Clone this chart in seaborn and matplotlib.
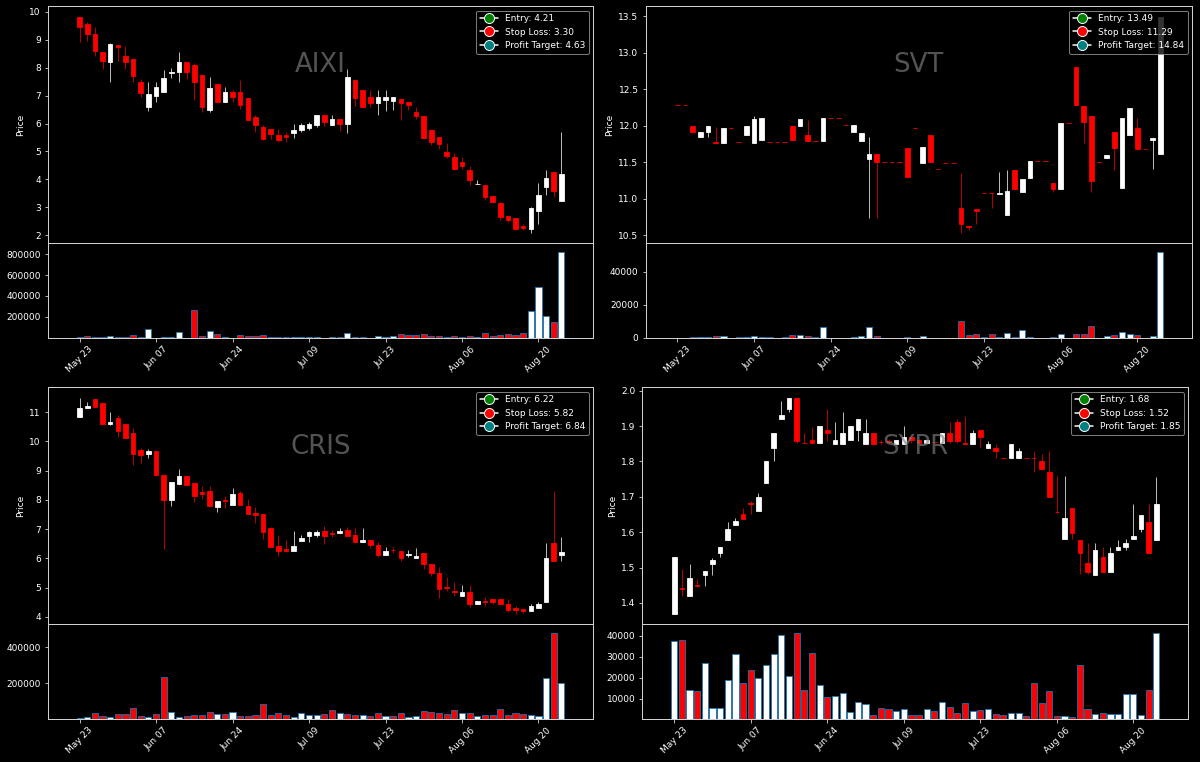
import numpy as np
import pandas as pd
import matplotlib
matplotlib.use("Agg")
import matplotlib.pyplot as plt
import seaborn as sns
from matplotlib.lines import Line2D
from matplotlib.ticker import MaxNLocator

# ---------------- data ----------------
tick_labels = ["May 23", "Jun 07", "Jun 24", "Jul 09", "Jul 23", "Aug 06", "Aug 20"]
dates = pd.bdate_range("2024-05-23", "2024-08-23", freq="C",
                       holidays=["2024-05-27", "2024-06-19", "2024-07-04"])

tickers = ["AIXI", "SVT", "CRIS", "SYPR"]
entry = [4.21, 13.49, 6.22, 1.68]
stop_loss = [3.30, 11.29, 5.82, 1.52]
profit_target = [4.63, 14.84, 6.84, 1.85]

aixi_open = [9.82, 9.57, 9.22, 8.57, 8.19, 8.82, 8.40, 8.31, 7.49, 6.60,
             7.00, 7.13, 7.80, 7.85, 8.21, 8.11, 7.75, 6.49, 7.41, 6.76,
             7.14, 7.13, 6.92, 6.24, 5.88, 5.82, 5.60, 5.58, 5.66, 5.76,
             5.84, 5.94, 6.29, 5.96, 6.16, 5.98, 7.57, 7.20, 6.95, 6.74,
             6.84, 6.82, 6.88, 6.76, 6.42, 6.26, 5.78, 5.51, 4.97, 4.79,
             4.61, 4.34, 3.83, 3.80, 3.42, 3.17, 2.68, 2.62, 2.32, 2.24,
             2.88, 3.72, 4.25, 3.24]
aixi_high = [9.82, 9.65, 9.45, 8.57, 8.87, 8.82, 8.79, 8.31, 7.60, 7.49,
             7.47, 7.92, 7.99, 8.56, 8.21, 8.16, 7.75, 7.66, 7.41, 7.30,
             7.20, 7.56, 6.92, 6.29, 5.96, 5.82, 5.81, 5.68, 6.00, 6.02,
             6.04, 6.30, 6.29, 6.30, 6.16, 7.95, 7.57, 7.20, 7.20, 7.20,
             7.20, 6.96, 6.88, 6.76, 6.58, 6.26, 5.78, 5.51, 5.29, 4.94,
             4.79, 4.49, 3.98, 3.80, 3.42, 3.19, 2.68, 2.62, 2.42, 3.02,
             3.86, 4.34, 4.25, 5.71]
aixi_low = [8.92, 8.95, 8.40, 7.95, 7.50, 8.25, 7.95, 7.50, 6.94, 6.46,
            6.76, 7.13, 7.63, 7.49, 7.59, 6.86, 6.41, 6.40, 6.78, 6.76,
            6.78, 6.52, 6.13, 5.70, 5.41, 5.46, 5.34, 5.34, 5.50, 5.71,
            5.78, 5.88, 5.90, 5.93, 5.74, 5.66, 6.62, 6.58, 6.60, 6.30,
            6.46, 6.50, 6.14, 6.48, 6.18, 5.50, 5.24, 5.09, 4.75, 4.35,
            4.38, 3.80, 3.82, 3.27, 3.19, 2.54, 2.49, 2.18, 2.18, 2.10,
            2.42, 3.43, 3.36, 3.24]
aixi_close = [9.46, 9.20, 8.59, 8.25, 8.85, 8.73, 8.20, 7.71, 7.11, 7.04,
              7.30, 7.63, 7.86, 8.21, 7.85, 7.49, 6.59, 7.26, 6.78, 7.12,
              6.94, 6.65, 6.13, 5.94, 5.45, 5.64, 5.40, 5.53, 5.76, 5.95,
              5.98, 6.30, 6.04, 6.16, 5.99, 7.66, 6.92, 6.58, 6.73, 6.95,
              6.95, 6.96, 6.74, 6.65, 6.28, 5.50, 5.34, 5.28, 4.85, 4.38,
              4.49, 3.97, 3.84, 3.37, 3.19, 2.66, 2.54, 2.24, 2.26, 2.97,
              3.45, 4.04, 3.60, 4.21]
aixi_volume = [10000, 15000, 8000, 4000, 15000, 8000, 3000, 30000, 8000, 88000,
               2000, 3000, 3000, 55000, 2000, 270000, 20000, 68000, 36000, 3000,
               2000, 24000, 14000, 18000, 28000, 4000, 8000, 8000, 9000, 10000,
               10000, 4000, 2000, 3000, 3000, 43000, 4000, 3000, 2000, 14000,
               3000, 15000, 36000, 30000, 24000, 36000, 20000, 20000, 5000, 20000,
               4000, 20000, 12000, 50000, 15000, 30000, 36000, 28000, 50000, 254000,
               486000, 213000, 152000, 822000]

svt_open = [12.29, 12.29, 12.00, 11.85, 11.91, 11.78, 11.77, 11.965, 11.78, 11.87,
            11.77, 11.81, 11.78, 11.78, 11.78, 12.00, 12.00, 11.87, 11.79, 11.79,
            12.10, 12.10, 12.01, 11.91, 11.79, 11.55, 11.62, 11.50, 11.50, 11.50,
            11.70, 11.97, 11.49, 11.88, 11.41, 11.49, 11.49, 10.87, 10.63, 10.86,
            11.08, 11.085, 11.07, 10.78, 11.40, 11.09, 11.29, 11.52, 11.52, 11.22,
            11.14, 12.04, 12.81, 12.27, 12.13, 11.51, 11.56, 11.91, 11.15, 11.88,
            11.97, 11.68, 11.80, 11.61]
svt_high = [12.29, 12.29, 12.00, 11.91, 11.99, 11.98, 11.97, 11.965, 11.78, 11.99,
            12.13, 12.10, 11.78, 11.78, 11.78, 12.00, 12.09, 12.08, 11.79, 12.10,
            12.10, 12.10, 12.01, 12.01, 11.90, 11.85, 11.62, 11.50, 11.50, 11.50,
            11.70, 11.97, 11.71, 11.88, 11.41, 11.49, 11.49, 11.36, 10.63, 10.86,
            11.08, 11.085, 11.37, 11.39, 11.40, 11.27, 11.52, 11.52, 11.52, 11.22,
            12.04, 12.04, 12.81, 12.27, 12.13, 11.51, 11.60, 11.91, 12.10, 12.24,
            12.10, 11.68, 11.83, 13.49]
svt_low = [12.29, 12.29, 11.91, 11.85, 11.85, 11.77, 11.77, 11.965, 11.78, 11.87,
           11.77, 11.81, 11.78, 11.78, 11.78, 11.80, 12.00, 11.79, 11.79, 11.79,
           12.10, 12.10, 12.01, 11.91, 11.79, 10.74, 10.74, 11.50, 11.50, 11.50,
           11.30, 11.97, 11.49, 11.51, 11.41, 11.49, 11.49, 10.54, 10.58, 10.66,
           11.08, 10.87, 11.07, 10.78, 11.14, 11.09, 11.29, 11.52, 11.52, 11.09,
           11.14, 12.04, 12.28, 11.77, 11.09, 11.51, 11.56, 11.39, 11.15, 11.88,
           11.68, 11.68, 11.41, 11.61]
svt_close = [12.29, 12.29, 11.91, 11.91, 11.99, 11.77, 11.97, 11.965, 11.78, 11.99,
             12.09, 12.10, 11.78, 11.78, 11.78, 11.80, 12.09, 11.79, 11.79, 12.10,
             12.10, 12.10, 12.01, 12.01, 11.90, 11.61, 11.50, 11.50, 11.50, 11.50,
             11.30, 11.97, 11.71, 11.51, 11.41, 11.49, 11.49, 10.65, 10.62, 10.83,
             11.08, 11.08, 11.08, 11.11, 11.14, 11.27, 11.52, 11.52, 11.52, 11.14,
             12.04, 12.04, 12.28, 12.05, 11.25, 11.51, 11.60, 11.70, 12.10, 12.24,
             11.68, 11.68, 11.83, 13.49]
svt_volume = [0, 0, 400, 700, 700, 1300, 1200, 0, 200, 300,
              1100, 300, 200, 0, 500, 1800, 1800, 1300, 300, 6300,
              0, 0, 0, 200, 1000, 6300, 1300, 0, 0, 0,
              200, 0, 800, 100, 0, 0, 0, 10200, 1500, 2500,
              300, 2500, 300, 2800, 400, 4800, 300, 0, 0, 400,
              2000, 0, 2000, 2000, 7300, 0, 800, 1500, 3600, 2500,
              1500, 0, 800, 52000]

cris_open = [10.82, 11.14, 11.46, 11.31, 10.59, 10.80, 10.60, 10.29, 9.70, 9.55,
             9.67, 8.85, 8.00, 8.53, 8.81, 8.56, 8.27, 8.29, 7.75, 7.99,
             7.81, 8.23, 7.79, 7.55, 7.51, 7.02, 6.41, 6.32, 6.26, 6.58,
             6.75, 6.81, 6.93, 6.87, 6.85, 6.96, 6.80, 6.57, 6.63, 6.45,
             6.10, 6.30, 6.25, 6.12, 6.01, 6.19, 5.79, 5.51, 5.02, 4.89,
             4.71, 4.85, 4.45, 4.54, 4.59, 4.61, 4.42, 4.29, 4.27, 4.19,
             4.31, 4.50, 6.52, 6.12]
cris_high = [11.48, 11.36, 11.46, 11.31, 10.99, 10.90, 10.60, 10.47, 9.78, 9.73,
             9.67, 8.85, 8.61, 9.04, 8.81, 8.56, 8.46, 8.46, 7.96, 8.12,
             8.42, 8.29, 8.02, 7.75, 7.51, 7.08, 6.78, 6.63, 6.95, 6.78,
             6.95, 6.97, 7.11, 6.98, 7.03, 7.07, 7.03, 7.05, 6.63, 6.56,
             6.37, 6.37, 6.25, 6.29, 6.35, 6.19, 5.79, 5.69, 5.37, 5.18,
             5.07, 5.07, 4.53, 4.68, 4.59, 4.61, 4.60, 4.37, 4.27, 4.42,
             4.50, 6.51, 8.30, 6.74]
cris_low = [10.82, 11.14, 11.16, 10.59, 10.56, 10.15, 10.13, 9.19, 9.27, 9.42,
            8.84, 6.32, 7.79, 8.53, 8.51, 7.92, 8.04, 7.80, 7.59, 7.73,
            7.81, 7.83, 7.52, 7.20, 6.66, 6.40, 6.09, 6.21, 6.24, 6.58,
            6.57, 6.72, 6.49, 6.72, 6.85, 6.77, 6.57, 6.57, 6.34, 6.04,
            6.10, 6.18, 5.89, 6.03, 6.01, 5.63, 5.39, 4.63, 4.88, 4.71,
            4.71, 4.34, 4.45, 4.38, 4.45, 4.45, 4.17, 4.11, 4.14, 4.19,
            4.31, 4.50, 5.92, 5.89]
cris_close = [11.15, 11.22, 11.16, 10.59, 10.66, 10.36, 10.13, 9.58, 9.52, 9.67,
              8.84, 8.00, 8.61, 8.81, 8.51, 8.13, 8.21, 7.80, 7.96, 7.97,
              8.21, 7.83, 7.52, 7.47, 6.91, 6.40, 6.26, 6.26, 6.41, 6.70,
              6.89, 6.89, 6.77, 6.84, 6.94, 6.77, 6.57, 6.63, 6.44, 6.11,
              6.26, 6.27, 6.00, 6.14, 6.07, 5.82, 5.48, 4.96, 4.99, 4.83,
              4.85, 4.42, 4.53, 4.52, 4.49, 4.45, 4.22, 4.23, 4.19, 4.36,
              4.45, 6.02, 5.92, 6.22]
cris_volume = [9000, 10000, 35000, 17000, 13000, 30000, 30000, 65000, 20000, 13000,
               28000, 233000, 39000, 13000, 17000, 26000, 26000, 41000, 28000, 30000,
               39000, 20000, 17000, 26000, 85000, 24000, 35000, 24000, 13000, 37000,
               22000, 22000, 30000, 50000, 33000, 30000, 24000, 26000, 17000, 35000,
               19000, 15000, 37000, 13000, 19000, 43000, 39000, 35000, 28000, 52000,
               37000, 33000, 19000, 24000, 24000, 59000, 24000, 35000, 31000, 22000,
               15000, 230000, 481000, 200000]

sypr_open = [1.370, 1.442, 1.419, 1.451, 1.480, 1.511, 1.540, 1.579, 1.619, 1.650,
             1.683, 1.660, 1.740, 1.838, 1.920, 1.949, 1.979, 1.853, 1.860, 1.851,
             1.889, 1.850, 1.850, 1.860, 1.889, 1.850, 1.881, 1.855, 1.857, 1.850,
             1.850, 1.869, 1.860, 1.852, 1.856, 1.852, 1.880, 1.910, 1.851, 1.850,
             1.890, 1.839, 1.839, 1.810, 1.809, 1.809, 1.809, 1.810, 1.800, 1.770,
             1.658, 1.580, 1.669, 1.579, 1.512, 1.480, 1.529, 1.488, 1.549, 1.559,
             1.580, 1.610, 1.629, 1.579]
sypr_high = [1.529, 1.497, 1.510, 1.468, 1.489, 1.528, 1.559, 1.629, 1.639, 1.668,
             1.689, 1.710, 1.801, 1.881, 1.970, 1.979, 1.979, 1.880, 1.898, 1.900,
             1.948, 1.910, 1.940, 1.900, 1.920, 1.920, 1.881, 1.860, 1.862, 1.860,
             1.899, 1.869, 1.860, 1.860, 1.856, 1.880, 1.910, 1.920, 1.929, 1.890,
             1.890, 1.859, 1.850, 1.810, 1.850, 1.839, 1.809, 1.830, 1.820, 1.830,
             1.759, 1.759, 1.669, 1.579, 1.568, 1.568, 1.559, 1.559, 1.579, 1.580,
             1.680, 1.649, 1.680, 1.757]
sypr_low = [1.370, 1.419, 1.419, 1.449, 1.449, 1.480, 1.529, 1.579, 1.619, 1.638,
            1.651, 1.660, 1.740, 1.801, 1.920, 1.941, 1.852, 1.852, 1.851, 1.851,
            1.859, 1.850, 1.850, 1.860, 1.859, 1.850, 1.850, 1.850, 1.852, 1.850,
            1.850, 1.852, 1.852, 1.852, 1.855, 1.852, 1.852, 1.852, 1.850, 1.850,
            1.840, 1.839, 1.809, 1.809, 1.809, 1.809, 1.809, 1.771, 1.779, 1.699,
            1.653, 1.580, 1.580, 1.481, 1.481, 1.480, 1.488, 1.488, 1.549, 1.549,
            1.580, 1.600, 1.540, 1.579]
sypr_close = [1.529, 1.439, 1.470, 1.449, 1.489, 1.520, 1.559, 1.610, 1.631, 1.638,
              1.681, 1.700, 1.801, 1.881, 1.932, 1.979, 1.859, 1.852, 1.851, 1.900,
              1.879, 1.861, 1.881, 1.900, 1.920, 1.881, 1.850, 1.854, 1.856, 1.860,
              1.869, 1.860, 1.852, 1.860, 1.855, 1.880, 1.859, 1.859, 1.850, 1.880,
              1.869, 1.850, 1.830, 1.809, 1.850, 1.830, 1.809, 1.809, 1.779, 1.699,
              1.657, 1.641, 1.599, 1.540, 1.488, 1.549, 1.488, 1.541, 1.559, 1.570,
              1.590, 1.649, 1.540, 1.680]
sypr_volume = [37500, 37800, 14000, 13600, 26800, 5400, 5400, 18700, 31100, 17500,
               23600, 19800, 26200, 31100, 40300, 20600, 41300, 14000, 31900, 16300,
               10800, 11400, 12700, 3500, 8600, 7300, 2200, 5700, 5100, 4300,
               5100, 2100, 2100, 5100, 4000, 8300, 6200, 3000, 7900, 4300,
               4400, 4900, 2500, 2000, 3200, 3200, 1600, 17300, 7900, 13600,
               1600, 1600, 1400, 25900, 5200, 2700, 3300, 2700, 2700, 12400,
               12400, 2400, 14300, 41100]

# ---------------- style ----------------
sns.set_theme(style="ticks")
plt.rcParams.update({
    "figure.facecolor": "black",
    "axes.facecolor": "black",
    "axes.edgecolor": "#d0d0d0",
    "axes.linewidth": 1.0,
    "axes.grid": False,
    "text.color": "white",
    "axes.labelcolor": "white",
    "xtick.color": "#e0e0e0",
    "ytick.color": "#e0e0e0",
    "xtick.labelcolor": "white",
    "ytick.labelcolor": "white",
    "font.size": 9,
    "axes.labelsize": 9,
    "xtick.labelsize": 9,
    "ytick.labelsize": 9,
    "legend.fontsize": 9,
    "xtick.major.size": 3.5,
    "ytick.major.size": 3.5,
    "xtick.major.width": 0.8,
    "ytick.major.width": 0.8,
    "font.family": ["DejaVu Sans"],
})

W, H = 1200, 762
fig = plt.figure(figsize=(W / 72, H / 72), dpi=72)


def rect(x0, x1, ytop, ybot):
    return [x0 / W, 1 - ybot / H, (x1 - x0) / W, (ybot - ytop) / H]


layout = {
    "AIXI": (47.7, 593.3, 6, 243.3, 337.7),
    "SVT": (645.5, 1192.3, 6, 243.3, 337.7),
    "CRIS": (47.7, 593.3, 387.3, 624.3, 718.7),
    "SYPR": (642.3, 1188.3, 387.3, 624.3, 718.7),
}

series = {
    "AIXI": (aixi_open, aixi_high, aixi_low, aixi_close, aixi_volume),
    "SVT": (svt_open, svt_high, svt_low, svt_close, svt_volume),
    "CRIS": (cris_open, cris_high, cris_low, cris_close, cris_volume),
    "SYPR": (sypr_open, sypr_high, sypr_low, sypr_close, sypr_volume),
}

for k, name in enumerate(tickers):
    o, h, l, c, v = (np.asarray(a, dtype=float) for a in series[name])
    n = len(o)
    x0, x1, ytop, ymid, ybot = layout[name]
    axp = fig.add_axes(rect(x0, x1, ytop, ymid))
    axv = fig.add_axes(rect(x0, x1, ymid, ybot), sharex=axp)

    df = pd.DataFrame({"date": dates[:n], "idx": np.arange(n), "open": o,
                       "high": h, "low": l, "close": c, "volume": v})
    df["dir"] = np.where(df["close"] > df["open"], "up", "down")
    up = (df["dir"] == "up").to_numpy()

    body_col = np.where(up, "white", "red")
    wick_col = np.where(up, "#b8b8b8", "#b00000")

    axp.use_sticky_edges = False
    axp.vlines(df["idx"], df["low"], df["high"], colors=wick_col, linewidth=1.0, zorder=2)
    axp.bar(df["idx"], (df["close"] - df["open"]).abs(),
            bottom=np.minimum(df["open"], df["close"]), width=0.6,
            color=body_col, edgecolor=body_col, linewidth=0.8, zorder=3)
    axp.set_ylabel("Price")
    axp.tick_params(axis="x", bottom=False, labelbottom=False)
    axp.text(0.5, 0.75, name, transform=axp.transAxes, ha="center", va="center",
             fontsize=26, color="gray", alpha=0.65)

    handles = [
        Line2D([0], [0], marker="o", color="w", markerfacecolor="green",
               markersize=10, label=f"Entry: {entry[k]:.2f}"),
        Line2D([0], [0], marker="o", color="w", markerfacecolor="red",
               markersize=10, label=f"Stop Loss: {stop_loss[k]:.2f}"),
        Line2D([0], [0], marker="o", color="w", markerfacecolor="teal",
               markersize=10, label=f"Profit Target: {profit_target[k]:.2f}"),
    ]
    axp.legend(handles=handles, loc="upper right", facecolor="black",
               edgecolor="#999999", framealpha=0.8, labelcolor="white")

    sns.barplot(data=df, x="idx", y="volume", hue="dir",
                palette={"up": "white", "down": "red"}, hue_order=["up", "down"],
                dodge=False, native_scale=True, width=0.8, saturation=1,
                edgecolor="#1f77b4", linewidth=0.8, errorbar=None,
                legend=False, ax=axv)
    axv.set_xlabel("")
    axv.set_ylabel("")
    axv.set_ylim(0.3 * v.min(), 1.1 * v.max())
    axv.yaxis.set_major_locator(MaxNLocator(nbins=5, steps=[1, 2, 2.5, 5, 10]))
    axv.set_xticks(np.arange(0, n, 10))
    axv.set_xticklabels(tick_labels, rotation=45)
    axv.set_xlim(-4.17, n - 1 + 4.17)
    for ax in (axp, axv):
        for s in ax.spines.values():
            s.set_visible(True)
            s.set_color("#d0d0d0")

fig.savefig("out.png", dpi=72, facecolor="black")
